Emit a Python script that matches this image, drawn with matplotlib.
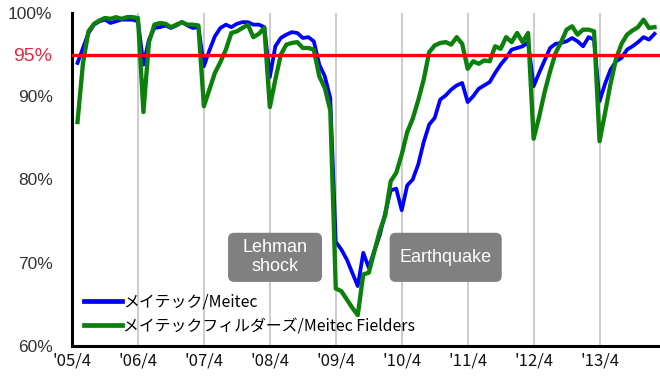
import matplotlib
matplotlib.use("Agg")
import matplotlib.pyplot as plt
from matplotlib.patches import FancyBboxPatch
from matplotlib.font_manager import FontProperties
import numpy as np

# Monthly operating rate (%), month index counted from April 2005 (0 = '05/4)
first_month = 1
meitec = [
    94.0, 95.8, 97.6, 98.6, 99.0, 99.2, 98.8, 99.0, 99.2, 99.2, 99.2, 99.0,
    93.8, 96.8, 98.2, 98.3, 98.5, 98.2, 98.5, 98.9, 98.5, 98.2, 98.3, 93.6,
    95.5, 97.2, 98.2, 98.6, 98.3, 98.7, 98.9, 98.9, 98.6, 98.6, 98.3, 92.3,
    96.0, 97.0, 97.4, 97.7, 97.6, 97.0, 97.1, 96.6, 93.8, 92.4, 89.8, 72.5,
    71.6, 70.4, 68.8, 67.2, 71.2, 69.4, 71.4, 73.3, 76.0, 78.7, 78.9, 76.3,
    79.3, 80.0, 81.8, 84.5, 86.6, 87.4, 89.6, 90.1, 90.8, 91.3, 91.6, 89.3,
    90.0, 90.9, 91.3, 91.7, 92.8, 93.8, 94.6, 95.6, 95.8, 96.0, 96.5, 91.2,
    92.8, 94.3, 95.8, 96.3, 96.4, 96.6, 97.0, 96.6, 96.0, 97.1, 96.8, 89.4,
    91.5, 93.2, 94.2, 94.6, 95.6, 96.0, 96.5, 97.1, 96.8, 97.5,
]
fielders = [
    86.9, 94.0, 97.8, 98.7, 99.1, 99.4, 99.3, 99.5, 99.3, 99.5, 99.5, 99.4,
    88.1, 96.5, 98.6, 98.8, 98.7, 98.3, 98.6, 98.9, 98.6, 98.6, 98.5, 88.8,
    90.8, 92.8, 94.1, 95.6, 97.6, 97.8, 98.2, 98.6, 97.1, 97.5, 98.2, 88.7,
    92.0, 95.0, 96.2, 96.4, 96.5, 95.8, 95.8, 95.6, 92.4, 91.0, 88.3, 66.9,
    66.6, 65.6, 64.6, 63.7, 68.6, 68.8, 71.3, 73.8, 75.7, 79.8, 80.8, 83.0,
    85.7, 87.3, 89.5, 92.0, 95.3, 96.1, 96.4, 96.5, 96.2, 97.1, 96.3, 93.3,
    94.2, 93.9, 94.3, 94.2, 96.0, 95.7, 97.1, 96.5, 97.6, 96.5, 97.6, 84.9,
    87.5, 90.5, 93.0, 95.2, 96.5, 98.0, 98.4, 97.4, 98.0, 98.0, 97.8, 84.6,
    88.0, 91.5, 94.5, 96.3, 97.4, 97.9, 98.3, 99.2, 98.2, 98.3,
]
series_labels = ["メイテック/Meitec", "メイテックフィルダーズ/Meitec Fielders"]

year_ticks = [0, 12, 24, 36, 48, 60, 72, 84, 96]
year_labels = ["'05/4", "'06/4", "'07/4", "'08/4", "'09/4",
               "'10/4", "'11/4", "'12/4", "'13/4"]
y_ticks = [60, 70, 80, 90, 100]
y_labels = ["60%", "70%", "80%", "90%", "100%"]
target = 95
target_label = "95%"

events = ["Lehman\nshock", "Earthquake"]
event_spans = [(28.4, 45.5), (57.8, 78.2)]   # month range of each label box
event_band = (67.7, 73.6)                     # % range of the label boxes

jp = ["Noto Sans CJK JP", "DejaVu Sans"]

fig = plt.figure(figsize=(6.6, 3.82), dpi=100)
ax = fig.add_axes([72 / 660, 1 - 346 / 382, 588 / 660, 333 / 382])

x = np.arange(first_month, first_month + len(meitec))

for m in year_ticks[1:]:
    ax.axvline(m, color="#c4c4c4", lw=1.2, zorder=1)

ax.plot(x, meitec, color="#0000ff", lw=2.7, solid_joinstyle="round",
        label=series_labels[0], zorder=3)
ax.plot(x, fielders, color="#0b800b", lw=3.1, solid_joinstyle="round",
        label=series_labels[1], zorder=4)
ax.axhline(target, color="#ff0000", lw=2.4, zorder=5)

ax.set_xlim(0, 107)
ax.set_ylim(60, 100)

ax.set_xticks(year_ticks)
ax.set_xticklabels(year_labels, fontproperties=FontProperties(family=jp, size=12))
ax.tick_params(axis="x", length=0, pad=5, colors="#111111")

ax.set_yticks(y_ticks + [target])
ax.set_yticklabels(y_labels + [target_label])
ax.tick_params(axis="y", length=0, pad=14)
for lab in ax.get_yticklabels():
    lab.set_family("Liberation Sans")
    if lab.get_text() == target_label:
        lab.set_color("#f0283c")
        lab.set_fontsize(14)
    else:
        lab.set_color("#333333")
        lab.set_fontsize(12.5)

for side in ("top", "right"):
    ax.spines[side].set_visible(False)
for side in ("left", "bottom"):
    ax.spines[side].set_color("black")
    ax.spines[side].set_linewidth(2.2)

# grey event label boxes
for text, (x0, x1) in zip(events, event_spans):
    y0, y1 = event_band
    box = FancyBboxPatch((x0, y0), x1 - x0, y1 - y0,
                         boxstyle="round,pad=0,rounding_size=1.1",
                         mutation_aspect=0.66, fc="#808080", ec="none", zorder=6)
    ax.add_patch(box)
    ax.text((x0 + x1) / 2, (y0 + y1) / 2, text, ha="center", va="center",
            color="white", fontsize=13, family="Liberation Sans",
            linespacing=1.15, zorder=7)

leg = ax.legend(loc="lower left", bbox_to_anchor=(0.02, 0.033), frameon=False,
                handlelength=2.4, handletextpad=0.1, labelspacing=0.46,
                borderpad=0, borderaxespad=0,
                prop=FontProperties(family=jp, size=11.4))
for line in leg.get_lines():
    line.set_linewidth(3.4)

fig.savefig("out.png", dpi=100, facecolor="white")
